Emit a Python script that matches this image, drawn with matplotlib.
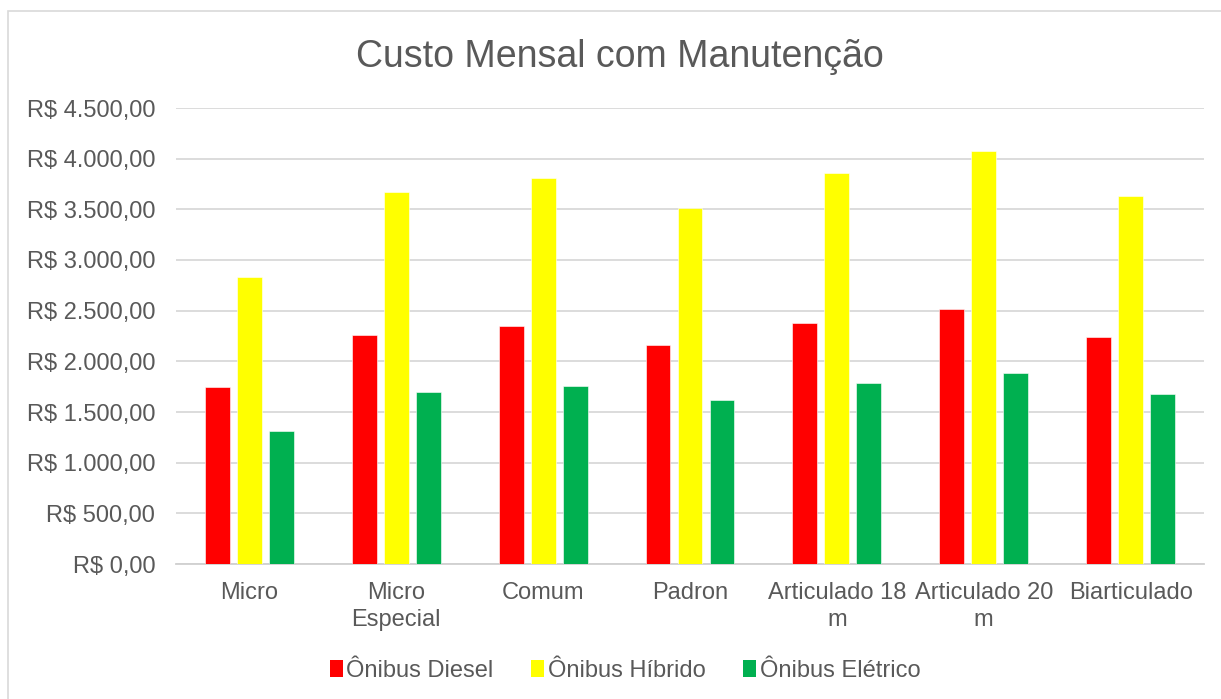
import numpy as np
import matplotlib.pyplot as plt
from matplotlib.patches import Patch, Rectangle
from matplotlib.ticker import FuncFormatter, MultipleLocator

# Dados
categorias = ['Micro', 'Micro\nEspecial', 'Comum', 'Padron',
              'Articulado 18\nm', 'Articulado 20\nm', 'Biarticulado']
diesel = [1747, 2260, 2349, 2161, 2381, 2513, 2240]
hibrido = [2832, 3671, 3806, 3510, 3862, 4079, 3635]
eletrico = [1310, 1694, 1760, 1622, 1786, 1882, 1678]
series = ['Ônibus Diesel', 'Ônibus Híbrido', 'Ônibus Elétrico']
cores = ['#FF0000', '#FFFF00', '#00B050']

plt.rcParams['font.family'] = ['Liberation Sans', 'DejaVu Sans']
cinza = '#595959'

fig = plt.figure(figsize=(12.21, 6.99), dpi=100)
ax = fig.add_axes([176 / 1221, 1 - 564 / 699, (1204 - 176) / 1221, (564 - 108) / 699])

# borda da área do gráfico (só esquerda e topo aparecem na imagem)
fig.patches.append(Rectangle((8 / 1221, -0.1), 1.2, 1 - 11 / 699 + 0.1,
                             transform=fig.transFigure, fill=False,
                             edgecolor='#d9d9d9', linewidth=1.2))

x = np.arange(len(categorias))
largura = 0.17
desloc = 0.218
for i, (valores, nome, cor) in enumerate(zip([diesel, hibrido, eletrico], series, cores)):
    ax.bar(x + (i - 1) * desloc, valores, largura, color=cor, label=nome,
           edgecolor='white', linewidth=0.4, zorder=3)

def formato_real(v, pos):
    s = f'{v:,.2f}'.replace(',', 'X').replace('.', ',').replace('X', '.')
    return 'R$ ' + s

ax.set_ylim(0, 4500)
ax.set_xlim(-0.5, len(categorias) - 0.5)
ax.yaxis.set_major_locator(MultipleLocator(500))
ax.yaxis.set_major_formatter(FuncFormatter(formato_real))
ax.set_xticks(x)
ax.set_xticklabels(categorias, linespacing=1.28)
ax.grid(axis='y', color='#d9d9d9', linewidth=1.3, zorder=0)
for lado in ['top', 'right', 'left']:
    ax.spines[lado].set_visible(False)
ax.spines['bottom'].set_color('#d0d0d0')
ax.spines['bottom'].set_linewidth(1.3)
ax.tick_params(axis='both', length=0, labelsize=17, colors=cinza)
ax.tick_params(axis='y', pad=15)
ax.tick_params(axis='x', pad=13)

fig.text(0.508, 1 - 57 / 699, 'Custo Mensal com Manutenção', ha='center', va='center',
         fontsize=27, color=cinza)

handles = [Patch(facecolor=c, edgecolor='none') for c in cores]
fig.legend(handles, series, loc='center', bbox_to_anchor=(0.512, 1 - 671 / 699),
           ncol=3, frameon=False, fontsize=17, handlelength=0.55, handleheight=0.75,
           handletextpad=0.15, columnspacing=1.6, labelcolor=cinza)

plt.savefig('out.png', dpi=100)
